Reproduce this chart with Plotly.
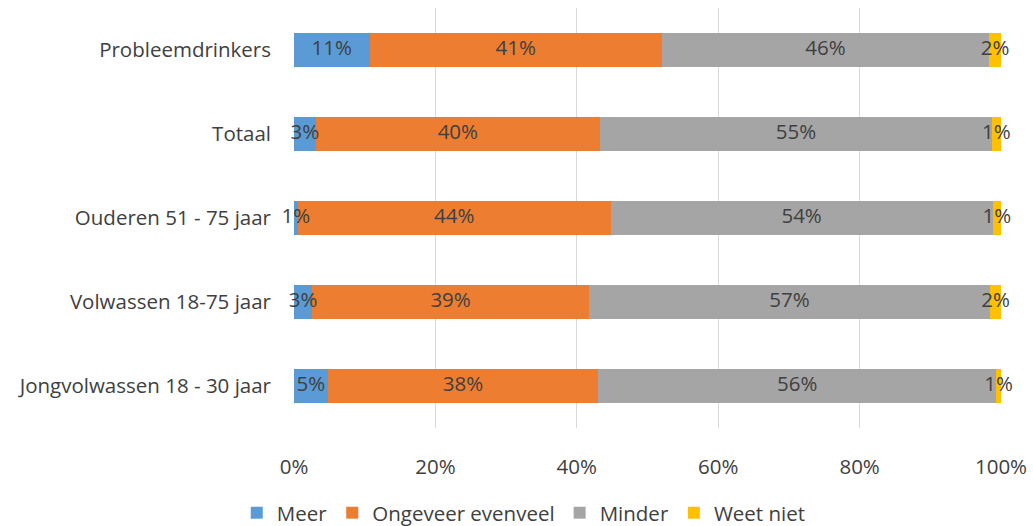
import plotly.graph_objects as go

# Groups, listed top to bottom
groups = [
    "Probleemdrinkers",
    "Totaal",
    "Ouderen 51 - 75 jaar",
    "Volwassen 18-75 jaar",
    "Jongvolwassen 18 - 30 jaar",
]

# Shares per answer (fractions of 100%)
meer = [0.107, 0.0305, 0.005, 0.026, 0.0475]
ongeveer_evenveel = [0.413, 0.4025, 0.443, 0.391, 0.383]
minder = [0.4635, 0.554, 0.540, 0.5675, 0.5625]
weet_niet = [0.0165, 0.013, 0.012, 0.0155, 0.007]

series = [
    ("Meer", meer, "#5B9BD5"),
    ("Ongeveer evenveel", ongeveer_evenveel, "#ED7D31"),
    ("Minder", minder, "#A5A5A5"),
    ("Weet niet", weet_niet, "#FFC000"),
]

font_family = "Open Sans, Noto Sans, sans-serif"
text_color = "#404040"
fsize = 20.5

fig = go.Figure()
for name, values, color in series:
    fig.add_trace(go.Bar(
        name=name,
        y=groups,
        x=values,
        orientation="h",
        marker=dict(color=color, line=dict(width=0)),
        hovertemplate="%{y}: %{x:.0%}<extra>" + name + "</extra>",
    ))

# Value labels centred on each segment, drawn above all bars
starts = [0.0] * len(groups)
for name, values, color in series:
    mids = [s + v / 2 for s, v in zip(starts, values)]
    fig.add_trace(go.Scatter(
        x=mids,
        y=groups,
        mode="text",
        text=[f"{round(v * 100 + 1e-9):.0f}%" for v in values],
        textposition="middle center",
        textfont=dict(family=font_family, size=fsize, color=text_color),
        cliponaxis=False,
        showlegend=False,
        hoverinfo="skip",
    ))
    starts = [s + v for s, v in zip(starts, values)]

fig.update_layout(
    barmode="stack",
    bargap=0.6,
    width=1033,
    height=526,
    margin=dict(l=294, r=32, t=8, b=98, autoexpand=False),
    paper_bgcolor="white",
    plot_bgcolor="white",
    font=dict(family=font_family, size=fsize, color=text_color),
    legend=dict(
        orientation="h",
        x=0.325,
        xanchor="center",
        yref="container",
        y=0.025,
        yanchor="middle",
        font=dict(size=fsize, color=text_color),
        itemwidth=30,
        traceorder="normal",
    ),
    xaxis=dict(
        range=[0, 1],
        tickvals=[0, 0.2, 0.4, 0.6, 0.8, 1.0],
        tickformat=".0%",
        showgrid=True,
        gridcolor="#D9D9D9",
        gridwidth=1,
        zeroline=False,
        showline=False,
        ticks="",
        ticklabelstandoff=24,
        tickfont=dict(size=fsize, color=text_color),
    ),
    yaxis=dict(
        autorange="reversed",
        showgrid=False,
        zeroline=False,
        showline=False,
        ticks="",
        ticklabelstandoff=22,
        tickfont=dict(size=fsize, color=text_color),
    ),
)

fig.write_html("out.html")
